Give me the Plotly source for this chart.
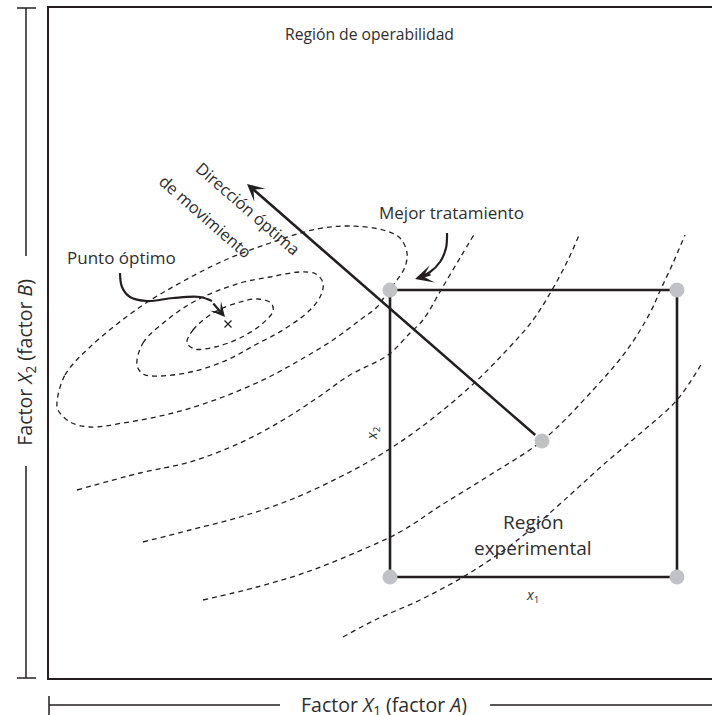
import plotly.graph_objects as go

INK = "#231f20"
TEXT = "#2e2e2e"
GREY = "#c1c2c5"
FONT = "Open Sans"

# ---------------- data (chart units: x = factor A, y = factor B) ----------------
# experimental region (square) and its design points
square_x = [341, 628, 628, 341, 341]
square_y = [388, 388, 101, 101, 388]
point_x = [341, 628, 341, 628, 493]
point_y = [388, 388, 101, 101, 237]

# optimum point
opt_x = [179]
opt_y = [354]

# direction of steepest ascent: from center point to tip
dir_tail = (493, 237)
dir_tip = (198, 494)

# closed contours around optimum
ell1_x = [138, 144, 164, 191, 209, 222, 224, 213, 191, 166, 146, 138]
ell1_y = [335, 348, 365, 376, 379, 375, 367, 354, 340, 331, 329, 335]

ell2_x = [88, 94, 118, 148, 191, 221, 251, 267, 274, 272, 261, 234, 206, 178, 146, 111, 94, 88]
ell2_y = [313, 335, 358, 378, 395, 401, 406, 404, 395, 383, 368, 348, 333, 318, 307, 302, 304, 313]

ell3_x = [8, 16, 41, 91, 131, 174, 221, 268, 301, 334, 351, 358, 356, 348, 338, 328, 311, 284,
          251, 218, 174, 124, 74, 41, 21, 9, 8]
ell3_y = [276, 303, 331, 371, 395, 417, 435, 449, 452, 448, 440, 425, 411, 398, 385, 371, 358, 338,
          318, 300, 281, 265, 255, 251, 256, 268, 276]

# open contours (arcs)
arc1_x = [28, 91, 141, 191, 234, 268, 301, 339, 361, 374, 392, 411, 426]
arc1_y = [188, 205, 216, 235, 258, 280, 303, 323, 345, 358, 388, 420, 445]

arc2_x = [94, 141, 191, 241, 291, 331, 371, 421, 456, 484, 503, 519, 531]
arc2_y = [136, 148, 161, 178, 201, 223, 250, 291, 326, 358, 388, 418, 445]

arc3_x = [154, 208, 258, 308, 351, 391, 441, 494, 544, 578, 601, 611, 624, 636]
arc3_y = [78, 91, 106, 126, 146, 172, 203, 238, 288, 328, 365, 387, 415, 443]

arc4_x = [294, 326, 371, 414, 451, 481, 521, 554, 594, 628, 653]
arc4_y = [41, 58, 78, 101, 125, 148, 183, 213, 247, 278, 315]

# curved pointer arrows
best_x = [398, 397, 391, 381, 373]
best_y = [445, 430, 416, 406, 402]
best_tip = (366, 399)
best_from = (383, 404)

optlbl_x = [71, 73, 81, 98, 124, 151, 163]
optlbl_y = [405, 391, 381, 377, 380, 381, 377]
optlbl_tip = (176, 361)
optlbl_from = (163, 376)

# ---------------- figure ----------------
fig = go.Figure()

dash_line = dict(color=INK, width=1.3, dash="5px,4px", shape="spline", smoothing=1.0)
for xs, ys in [(ell1_x, ell1_y), (ell2_x, ell2_y), (ell3_x, ell3_y),
               (arc1_x, arc1_y), (arc2_x, arc2_y), (arc3_x, arc3_y), (arc4_x, arc4_y)]:
    fig.add_trace(go.Scatter(x=xs, y=ys, mode="lines", line=dash_line, hoverinfo="skip"))

# square
fig.add_trace(go.Scatter(x=square_x, y=square_y, mode="lines",
                         line=dict(color=INK, width=2.6), hoverinfo="skip"))

# curved arrow bodies
for xs, ys in [(best_x, best_y), (optlbl_x, optlbl_y)]:
    fig.add_trace(go.Scatter(x=xs, y=ys, mode="lines",
                             line=dict(color=INK, width=2.2, shape="spline", smoothing=1.0),
                             hoverinfo="skip"))

# design points
fig.add_trace(go.Scatter(x=point_x, y=point_y, mode="markers",
                         marker=dict(size=15, color=GREY, line=dict(width=0)), hoverinfo="skip"))

# optimum marker
fig.add_trace(go.Scatter(x=opt_x, y=opt_y, mode="markers",
                         marker=dict(symbol="x-thin", size=7, line=dict(color=INK, width=1.2)),
                         hoverinfo="skip"))

annotations = []

def arrow(tip, tail, width, size, startstand=0):
    annotations.append(dict(x=tip[0], y=tip[1], ax=tail[0], ay=tail[1], xref="x", yref="y",
                            axref="x", ayref="y", text="", showarrow=True, arrowhead=3,
                            arrowsize=size, arrowwidth=width, arrowcolor=INK,
                            standoff=0, startstandoff=startstand))

arrow(dir_tip, dir_tail, 2.6, 1.1, startstand=7)
arrow(best_tip, best_from, 2.2, 1.35)
arrow(optlbl_tip, optlbl_from, 2.2, 1.1)

def label(x, y, text, size=16, angle=0, ref="x"):
    annotations.append(dict(x=x, y=y, xref=ref, yref=ref.replace("x", "y"), text=text,
                            showarrow=False, textangle=angle, xanchor="center", yanchor="middle",
                            font=dict(family=FONT, size=size, color=TEXT)))

label(320, 644, "Región de operabilidad", 15.7)
label(402, 466, "Mejor tratamiento", 17)
label(72, 421, "Punto óptimo", 17)
label(484, 156, "Región", 19)
label(484, 130, "experimental", 19)
label(483, 83, "<i>x</i><sub>1</sub>", 14)
label(323, 245, "<i>x</i><sub>2</sub>", 14, angle=-90)
label(199.5, 470, "Dirección óptima", 16.5, angle=41)
label(157, 462, "de movimiento", 16.5, angle=41)

# axis labels outside frame (paper coords)
label(0.5053, -0.0403, "Factor <i>X</i><sub>1</sub> (factor <i>A</i>)", 19.5, ref="paper")
label(-0.0347, 0.472, "Factor <i>X</i><sub>2</sub> (factor <i>B</i>)", 19.5, angle=-90, ref="paper")

# brackets outside the frame
br = dict(color=INK, width=1.5)
shapes = [
    # left bracket
    dict(type="line", xref="paper", yref="paper", x0=-0.0347, x1=-0.0347, y0=1.0, y1=0.6299, line=br),
    dict(type="line", xref="paper", yref="paper", x0=-0.0347, x1=-0.0347, y0=0.3164, y1=0.0, line=br),
    dict(type="line", xref="paper", yref="paper", x0=-0.0483, x1=-0.0196, y0=1.0, y1=1.0, line=br),
    dict(type="line", xref="paper", yref="paper", x0=-0.0483, x1=-0.0196, y0=0.0, y1=0.0, line=br),
    # bottom bracket
    dict(type="line", xref="paper", yref="paper", x0=0.0, x1=0.0, y0=-0.0269, y1=-0.0552, line=br),
    dict(type="line", xref="paper", yref="paper", x0=0.0, x1=0.3484, y0=-0.0403, y1=-0.0403, line=br),
    dict(type="line", xref="paper", yref="paper", x0=0.6652, x1=1.0, y0=-0.0403, y1=-0.0403, line=br),
]

fig.update_layout(
    width=712, height=715,
    margin=dict(l=49, r=0, t=8, b=37),
    paper_bgcolor="white", plot_bgcolor="white",
    showlegend=False,
    annotations=annotations,
    shapes=shapes,
    xaxis=dict(range=[0, 663], showgrid=False, zeroline=False, showticklabels=False, ticks="",
               showline=True, linecolor=INK, linewidth=1.5, mirror=True, fixedrange=True),
    yaxis=dict(range=[0, 670], showgrid=False, zeroline=False, showticklabels=False, ticks="",
               showline=True, linecolor=INK, linewidth=1.5, mirror=False, fixedrange=True),
    font=dict(family=FONT, color=TEXT),
)

fig.write_html("out.html", config={"displayModeBar": False},
               post_script="document.body.style.margin='0';document.body.style.overflow='hidden';")
